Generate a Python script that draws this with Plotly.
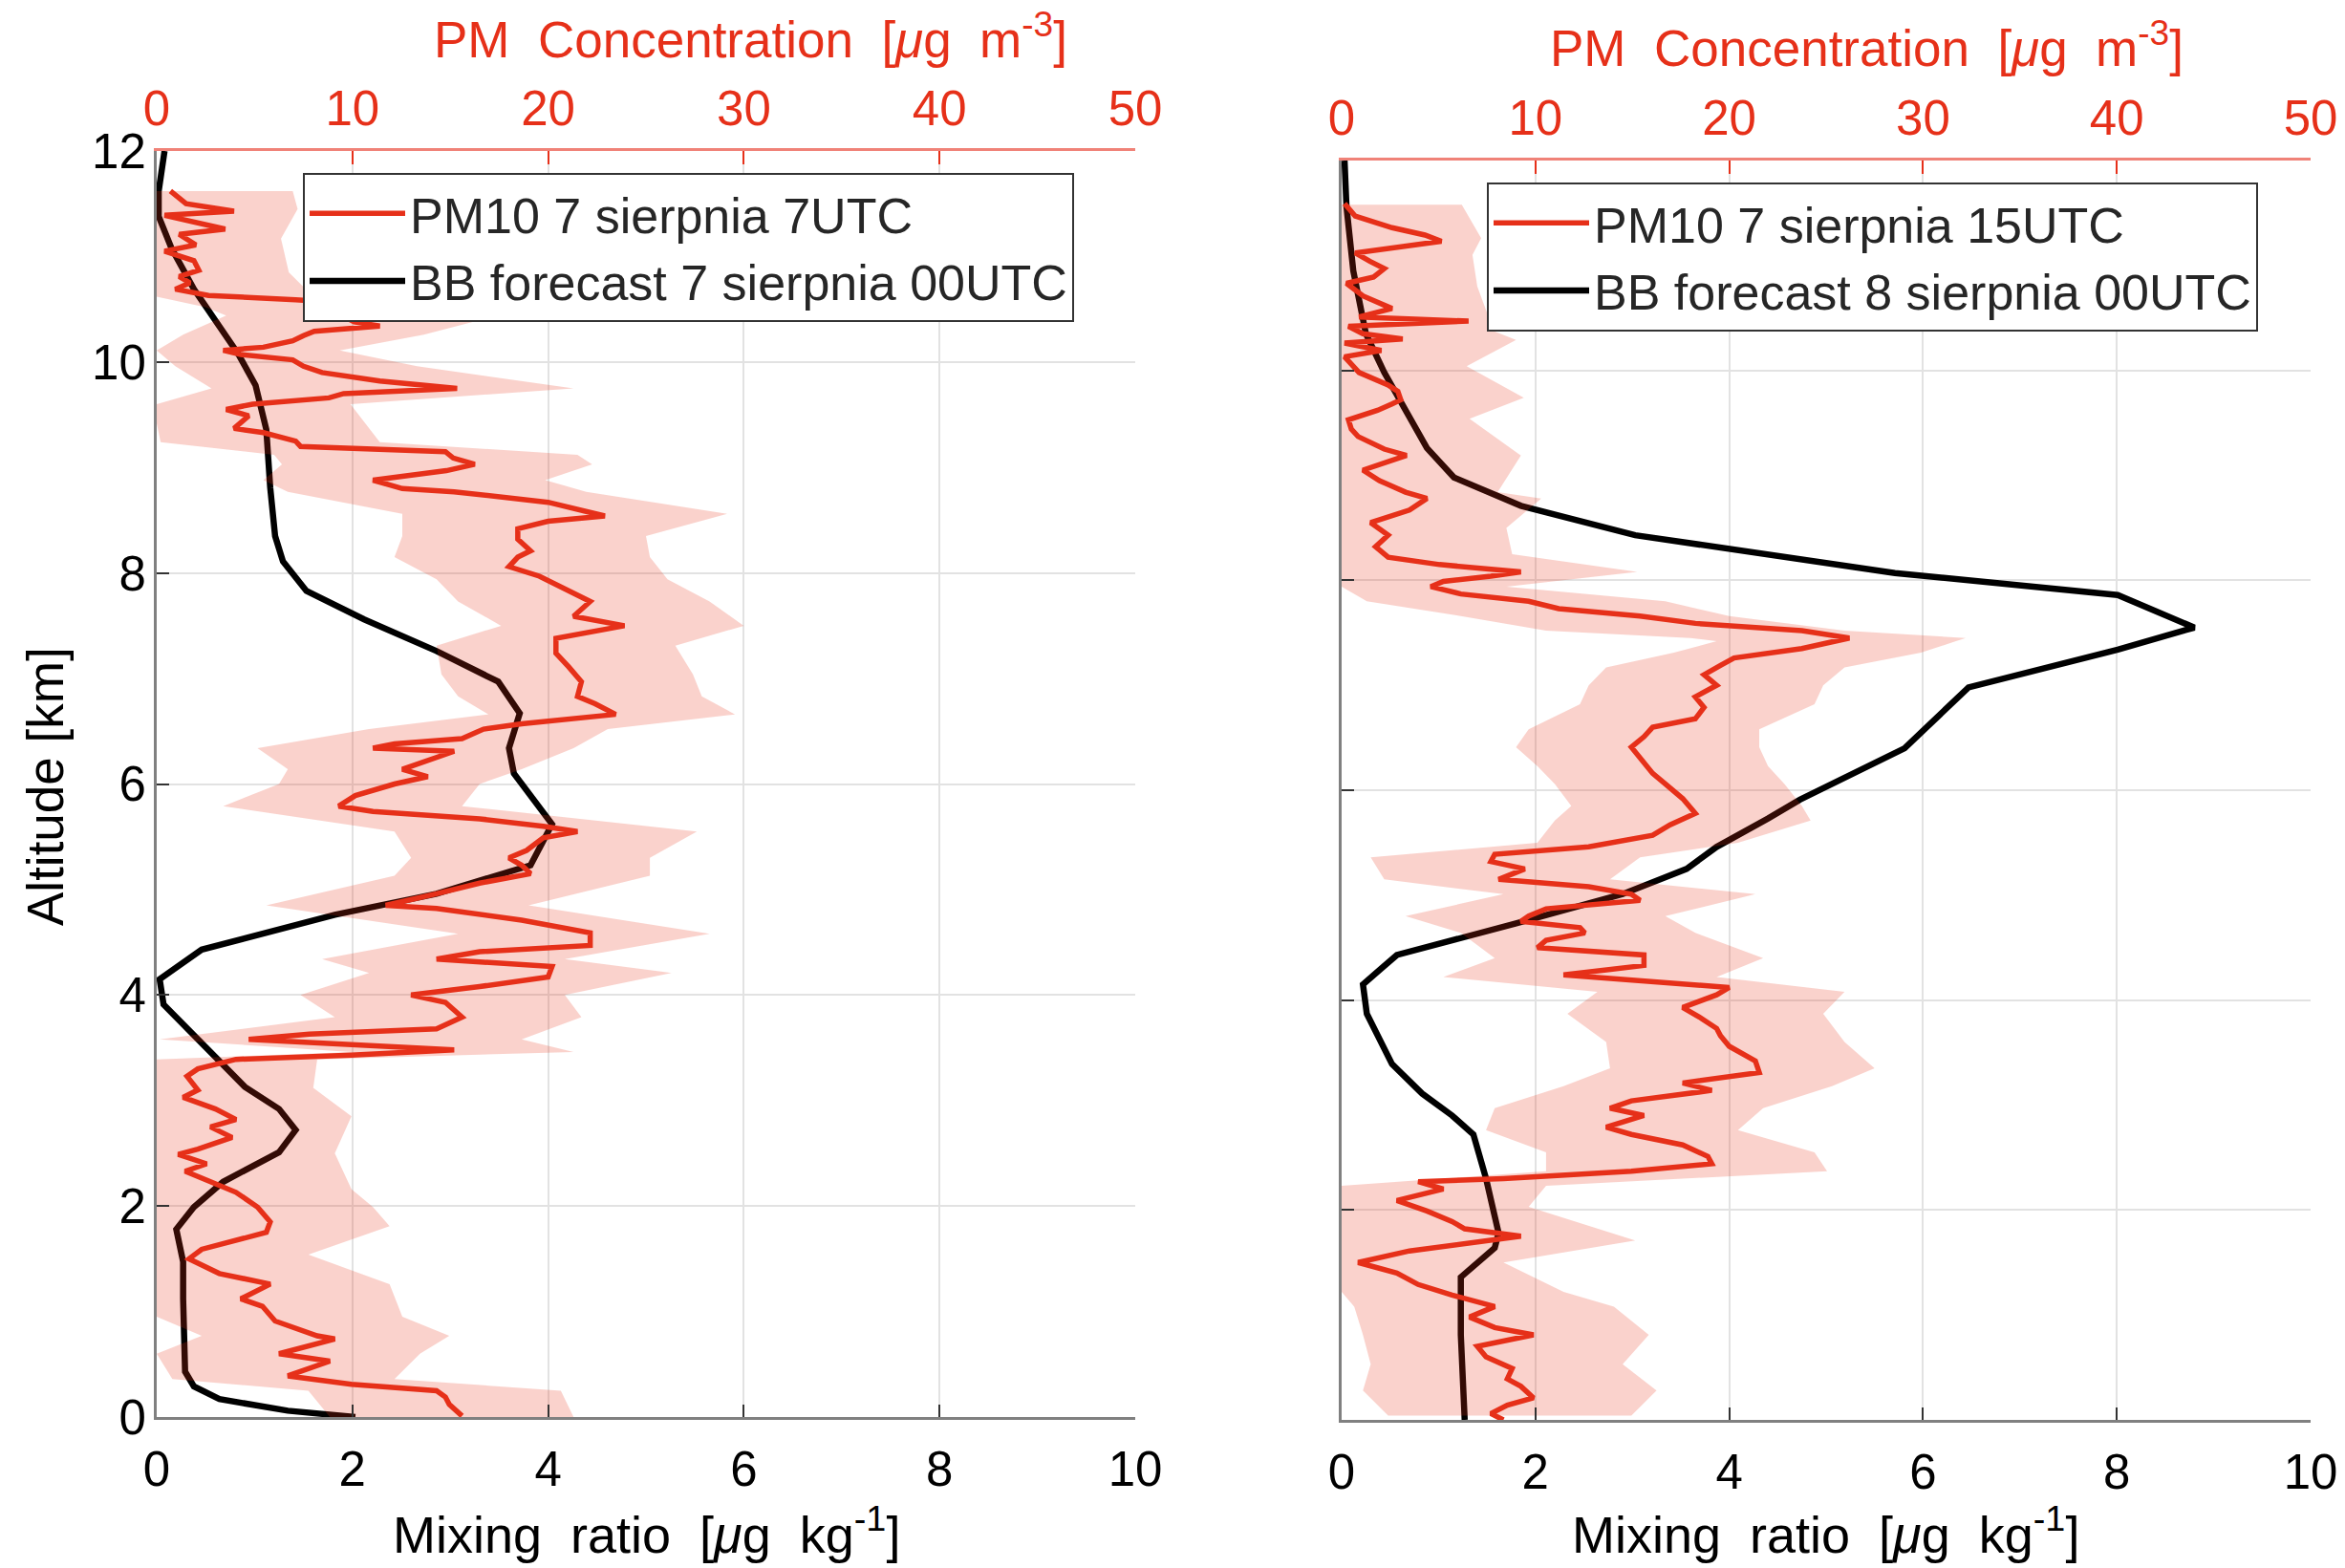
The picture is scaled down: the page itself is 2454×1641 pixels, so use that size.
import plotly.graph_objects as go

# ---------------- LEFT PANEL DATA ----------------
# PM10 7 sierpnia 7UTC  (PM concentration, ug m-3)
alt_pm_L = [11.62, 11.50, 11.43, 11.39, 11.26, 11.21, 11.11, 11.05, 10.96, 10.87, 10.81, 10.75, 10.69, 10.63,
            10.59, 10.52, 10.49, 10.43, 10.38, 10.34, 10.29, 10.25, 10.20, 10.14, 10.11, 10.07, 10.02, 9.96,
            9.90, 9.82, 9.75, 9.70, 9.66, 9.60, 9.55, 9.49, 9.43, 9.37, 9.33, 9.25, 9.20, 9.15, 9.09, 9.03,
            8.97, 8.88, 8.80, 8.77, 8.67, 8.54, 8.49, 8.42, 8.32, 8.21, 8.15, 8.06, 7.97, 7.87, 7.73, 7.59,
            7.50, 7.38, 7.24, 7.11, 6.97, 6.83, 6.76, 6.66, 6.57, 6.52, 6.43, 6.38, 6.34, 6.31, 6.20, 6.14,
            6.07, 6.00, 5.89, 5.79, 5.74, 5.67, 5.60, 5.55, 5.49, 5.37, 5.30, 5.23, 5.15, 5.06, 4.96, 4.85,
            4.82, 4.71, 4.59, 4.47, 4.41, 4.34, 4.27, 4.17, 4.08, 4.00, 3.93, 3.79, 3.68, 3.63, 3.58, 3.53,
            3.48, 3.43, 3.39, 3.30, 3.23, 3.10, 3.03, 2.92, 2.82, 2.75, 2.65, 2.54, 2.49, 2.40, 2.33, 2.23,
            2.13, 1.99, 1.85, 1.75, 1.66, 1.59, 1.50, 1.36, 1.26, 1.12, 1.05, 0.91, 0.77, 0.74, 0.60, 0.53,
            0.39, 0.31, 0.25, 0.19, 0.12, 0.01]
pm_L = [0.7, 1.5, 3.95, 0.4, 3.5, 1.15, 2.0, 0.4, 1.9, 2.15, 1.15, 1.7, 0.95, 2.65,
        7.1, 13.0, 15.9, 9.55, 10.1, 11.4, 8.05, 7.5, 6.95, 5.45, 3.4, 4.3, 6.95, 7.5,
        8.45, 11.4, 15.35, 9.55, 8.8, 4.9, 3.55, 4.7, 4.3, 3.95, 5.45, 7.1, 7.35, 14.75, 15.15, 16.25,
        14.8, 11.05, 12.55, 15.2, 20.0, 22.9, 20.0, 18.45, 18.45, 19.1, 18.45, 18.0, 19.55, 20.65, 22.15, 21.3,
        23.9, 20.4, 20.4, 21.05, 21.7, 21.5, 22.4, 23.45, 18.65, 16.7, 15.6, 12.15, 11.05, 15.2, 13.45, 12.55,
        13.85, 12.15, 10.15, 9.3, 11.05, 16.5, 19.75, 21.5, 19.75, 18.9, 18.0, 18.65, 19.1, 16.5, 14.3, 11.7,
        14.3, 18.65, 22.15, 22.15, 16.5, 14.3, 20.2, 20.0, 16.5, 13.0, 14.75, 15.6, 14.3, 7.8, 4.7, 9.95,
        15.2, 9.95, 4.05, 2.1, 1.55, 2.1, 1.35, 3.0, 4.05, 2.75, 3.85, 2.1, 1.1, 2.55, 1.45, 2.75,
        4.05, 5.15, 5.8, 5.6, 3.85, 2.3, 1.65, 3.2, 5.8, 4.3, 5.4, 6.05, 8.2, 9.1, 6.25, 8.85,
        6.7, 9.95, 14.3, 14.75, 14.95, 15.6]

# PM spread band (ug m-3)
alt_band_L = [11.62, 11.45, 11.17, 10.85, 10.62, 10.52, 10.44, 10.26, 10.11, 9.96, 9.75, 9.60, 9.42, 9.24,
              9.12, 9.03, 8.88, 8.77, 8.56, 8.35, 8.15, 7.94, 7.73, 7.50, 7.31, 7.04, 6.83, 6.66, 6.52,
              6.34, 6.14, 6.00, 5.79, 5.55, 5.30, 5.13, 4.85, 4.58, 4.34, 4.21, 4.00, 3.79, 3.58, 3.46,
              3.39, 3.12, 2.85, 2.50, 2.16, 1.99, 1.81, 1.54, 1.26, 0.95, 0.77, 0.60, 0.36, 0.25, 0.00]
pm_lo_L = [0.0, 0.0, 0.0, 0.0, 0.0, 2.5, 3.55, 1.35, 0.0, 0.95, 2.8, 0.0, 0.0, 0.2,
           6.0, 6.4, 5.45, 6.7, 12.55, 12.55, 12.15, 14.3, 15.4, 17.6, 14.3, 14.55, 15.4, 16.95, 10.85,
           5.15, 6.7, 6.25, 3.4, 12.15, 13.0, 12.15, 5.6, 15.4, 8.45, 10.85, 7.35, 9.1, 0.15, 9.95,
           0.0, 0.0, 0.0, 0.0, 0.0, 0.0, 0.0, 0.0, 0.0, 0.0, 2.3, 0.0, 0.8, 7.75, 8.85]
pm_hi_L = [6.95, 7.2, 6.35, 6.75, 8.0, 21.5, 17.4, 13.65, 9.35, 13.3, 21.3, 9.9, 10.65, 11.4,
           21.5, 22.25, 19.85, 21.95, 29.15, 25.0, 25.2, 26.1, 28.25, 30.0, 26.5, 27.4, 27.85, 29.55, 23.05,
           21.3, 18.65, 16.5, 15.6, 27.6, 25.2, 25.2, 19.0, 28.25, 20.85, 26.3, 20.85, 21.7, 18.65, 21.3,
           8.2, 8.0, 9.95, 9.1, 9.95, 11.05, 11.9, 7.75, 11.9, 12.55, 14.95, 13.45, 12.15, 20.65, 21.3]

# BB forecast 7 sierpnia 00UTC (mixing ratio, ug kg-1)
alt_bb_L = [12.0, 11.62, 11.38, 11.08, 10.69, 10.38, 10.08, 9.78, 9.36, 8.81, 8.35, 8.11, 7.83, 7.56,
            7.26, 6.97, 6.67, 6.34, 6.10, 5.62, 5.23, 4.96, 4.82, 4.76, 4.43, 4.15, 3.91, 3.39, 3.13,
            2.92, 2.72, 2.51, 2.23, 1.99, 1.78, 1.47, 1.12, 0.43, 0.29, 0.17, 0.06, 0.0]
bb_L = [0.08, 0.02, 0.02, 0.15, 0.38, 0.60, 0.83, 1.01, 1.12, 1.16, 1.21, 1.29, 1.53, 2.12,
        2.86, 3.49, 3.71, 3.60, 3.65, 4.04, 3.82, 2.86, 2.16, 1.82, 0.46, 0.03, 0.07, 0.62, 0.90,
        1.25, 1.42, 1.25, 0.68, 0.38, 0.20, 0.27, 0.27, 0.29, 0.38, 0.64, 1.34, 2.03]

# ---------------- RIGHT PANEL DATA ----------------
# PM10 7 sierpnia 15UTC (PM concentration, ug m-3)
alt_pm_R = [11.59, 11.47, 11.36, 11.29, 11.23, 11.17, 11.12, 11.04, 10.97, 10.89, 10.83, 10.71, 10.59, 10.51,
            10.47, 10.42, 10.35, 10.30, 10.26, 10.19, 10.13, 9.98, 9.86, 9.80, 9.72, 9.68, 9.62, 9.53, 9.44,
            9.37, 9.25, 9.19, 9.12, 9.05, 8.95, 8.84, 8.78, 8.67, 8.55, 8.43, 8.32, 8.22, 8.15, 8.08, 8.04,
            7.99, 7.94, 7.87, 7.80, 7.73, 7.66, 7.59, 7.52, 7.45, 7.35, 7.26, 7.19, 7.10, 7.00, 6.89, 6.79,
            6.68, 6.60, 6.51, 6.41, 6.27, 6.16, 6.06, 5.92, 5.78, 5.67, 5.57, 5.46, 5.39, 5.32, 5.25, 5.15,
            5.08, 5.01, 4.95, 4.87, 4.80, 4.75, 4.69, 4.64, 4.57, 4.50, 4.43, 4.33, 4.24, 4.19, 4.12, 4.05,
            3.93, 3.84, 3.73, 3.66, 3.56, 3.42, 3.31, 3.21, 3.14, 3.04, 2.97, 2.90, 2.79, 2.72, 2.62, 2.51,
            2.44, 2.37, 2.30, 2.27, 2.20, 2.09, 1.99, 1.89, 1.82, 1.75, 1.68, 1.61, 1.50, 1.40, 1.29, 1.19,
            1.08, 0.98, 0.88, 0.81, 0.70, 0.60, 0.49, 0.39, 0.32, 0.21, 0.14, 0.06, 0.00]
pm_R = [0.15, 0.7, 2.6, 4.3, 5.15, 2.6, 0.7, 1.45, 2.2, 1.65, 0.25, 1.1, 2.6, 0.9,
        6.55, 0.35, 1.1, 3.15, 0.15, 2.05, 0.15, 0.9, 2.4, 2.9, 3.05, 2.6, 1.85, 0.35, 0.5,
        0.85, 2.2, 3.35, 2.2, 1.1, 1.95, 3.3, 4.4, 3.5, 1.5, 2.4, 1.75, 2.4, 5.05, 9.25, 7.7,
        5.25, 4.6, 6.15, 9.65, 11.2, 15.4, 18.25, 23.75, 26.2, 23.75, 20.25, 19.55, 18.7, 19.35, 18.25, 18.7,
        18.25, 16.05, 15.6, 14.95, 15.6, 16.05, 16.7, 17.6, 18.25, 16.95, 16.05, 12.75, 7.9, 7.7, 9.45, 8.1,
        12.75, 14.95, 15.4, 10.55, 9.65, 9.25, 12.3, 12.55, 10.55, 10.1, 15.6, 15.6, 11.45, 14.95, 20.0, 19.35,
        17.6, 18.45, 19.35, 19.55, 20.0, 21.35, 21.55, 17.6, 19.1, 14.95, 13.85, 15.6, 13.65, 14.95, 17.6, 18.9,
        19.1, 14.95, 8.35, 3.95, 5.25, 2.85, 4.4, 5.7, 6.35, 9.25, 6.15, 3.5, 0.85, 2.85, 3.95, 5.7,
        7.9, 6.6, 7.9, 9.9, 7.0, 7.45, 8.8, 8.55, 9.25, 9.9, 8.55, 7.7, 8.35]

alt_band_R = [11.58, 11.26, 11.10, 10.80, 10.55, 10.47, 10.40, 10.29, 10.04, 9.74, 9.54, 9.19, 8.84, 8.78,
              8.50, 8.25, 8.08, 7.94, 7.80, 7.66, 7.52, 7.45, 7.42, 7.31, 7.17, 7.00, 6.82, 6.58, 6.41,
              6.23, 6.06, 5.85, 5.71, 5.50, 5.36, 5.15, 5.01, 4.80, 4.64, 4.40, 4.22, 4.08, 3.87, 3.60,
              3.35, 3.18, 2.97, 2.76, 2.55, 2.37, 2.23, 2.03, 1.85, 1.71, 1.50, 1.22, 1.08, 0.81, 0.53,
              0.28, 0.04]
pm_lo_R = [0.0, 0.0, 0.0, 0.0, 0.0, 0.0, 0.0, 0.0, 0.0, 0.0, 0.0, 0.0, 0.0, 0.0,
           0.0, 0.0, 0.0, 0.0, 1.3, 6.15, 10.55, 18.0, 19.35, 17.15, 13.65, 12.75, 12.3, 9.65, 9.0,
           10.1, 11.0, 11.85, 11.0, 10.1, 1.5, 2.2, 8.35, 3.3, 6.15, 7.9, 5.25, 13.2, 11.65, 13.65,
           13.85, 11.45, 7.9, 7.45, 10.55, 10.55, 0.0, 0.0, 0.0, 0.0, 0.0, 0.0, 0.65, 1.1, 1.5,
           1.1, 2.4]
pm_hi_R = [6.2, 7.2, 6.75, 7.0, 7.5, 12.0, 7.5, 9.0, 6.45, 9.4, 6.6, 9.25, 8.05, 10.3,
           8.5, 8.8, 15.25, 8.5, 16.7, 20.0, 25.95, 32.2, 31.7, 29.9, 25.95, 24.85, 24.4, 21.55, 21.55,
           22.0, 22.85, 23.75, 24.2, 20.45, 15.4, 13.85, 21.35, 16.7, 18.25, 21.75, 19.35, 25.95, 24.85, 25.95,
           27.5, 25.3, 21.75, 20.45, 24.4, 25.05, 10.55, 9.65, 12.75, 15.15, 8.35, 11.45, 14.05, 15.85, 14.5,
           16.25, 14.95]

# BB forecast 8 sierpnia 00UTC (mixing ratio, ug kg-1)
alt_bb_R = [12.0, 11.56, 10.95, 10.35, 9.98, 9.59, 9.26, 8.98, 8.71, 8.43, 8.25, 8.07, 7.86, 7.55,
            7.34, 6.98, 6.40, 5.91, 5.73, 5.46, 5.25, 5.01, 4.73, 4.43, 4.15, 3.87, 3.39, 3.11, 2.90,
            2.72, 2.30, 1.78, 1.64, 1.36, 0.81, 0.00]
bb_R = [0.03, 0.05, 0.12, 0.25, 0.44, 0.67, 0.88, 1.16, 1.85, 3.03, 4.40, 5.71, 8.01, 8.80,
        8.01, 6.47, 5.81, 4.73, 4.40, 3.87, 3.56, 2.90, 1.80, 0.57, 0.22, 0.26, 0.52, 0.83, 1.14,
        1.36, 1.49, 1.62, 1.58, 1.23, 1.23, 1.27]

# tick labels
mix_ticks = [0, 2, 4, 6, 8, 10]
pm_ticks = [0, 10, 20, 30, 40, 50]
alt_ticks = [0, 2, 4, 6, 8, 10, 12]

legend_L = ["PM10 7 sierpnia 7UTC", "BB forecast 7 sierpnia 00UTC"]
legend_R = ["PM10 7 sierpnia 15UTC", "BB forecast 8 sierpnia 00UTC"]

# ---------------- STYLE ----------------
FONT = "Liberation Sans, Arial, Helvetica, sans-serif"
RED = "rgb(230,48,25)"
BAND = "rgba(230,48,25,0.22)"
GRID = "#E2E2E2"
AXGREY = "#808080"
W, H = 2454, 1641

fig = go.Figure()


def add_panel(xa, xa_top, ya, alt_pm, pm, alt_b, lo, hi, alt_bb, bb, names, leg):
    # black forecast line (bottom axis, mixing ratio)
    fig.add_trace(go.Scatter(x=bb, y=alt_bb, mode="lines", name=names[1],
                             line=dict(color="black", width=6.5), xaxis=xa, yaxis=ya,
                             legend=leg, legendrank=2))
    # spread band (top axis, PM concentration)
    fig.add_trace(go.Scatter(x=lo + hi[::-1], y=alt_b + alt_b[::-1], mode="lines", fill="toself",
                             fillcolor=BAND, line=dict(width=0, color="rgba(0,0,0,0)"),
                             xaxis=xa_top, yaxis=ya, showlegend=False, hoverinfo="skip"))
    # red PM line (top axis)
    fig.add_trace(go.Scatter(x=pm, y=alt_pm, mode="lines", name=names[0],
                             line=dict(color=RED, width=5.5), xaxis=xa_top, yaxis=ya,
                             legend=leg, legendrank=1))


add_panel("x", "x2", "y", alt_pm_L, pm_L, alt_band_L, pm_lo_L, pm_hi_L, alt_bb_L, bb_L, legend_L, "legend")
add_panel("x3", "x4", "y2", alt_pm_R, pm_R, alt_band_R, pm_lo_R, pm_hi_R, alt_bb_R, bb_R, legend_R, "legend2")

dom_xL = [164 / W, 1188 / W]
dom_yL = [1 - 1483 / H, 1 - 158 / H]
dom_xR = [1404 / W, 2418 / W]
dom_yR = [1 - 1486 / H, 1 - 168 / H]

tickfont = dict(family=FONT, size=51, color="black")
redfont = dict(family=FONT, size=51, color=RED)

bottom_axis = dict(range=[0, 10], tickvals=mix_ticks, showline=True, linecolor=AXGREY, linewidth=3,
                   ticks="inside", ticklen=13, tickwidth=2, tickcolor="#333333", showgrid=True,
                   gridcolor=GRID, gridwidth=2, zeroline=False, tickfont=tickfont, automargin=False,
                   ticklabelstandoff=8)
top_axis = dict(range=[0, 50], tickvals=pm_ticks, side="top", showline=True, linecolor="rgb(240,130,120)",
                linewidth=3, ticks="inside", ticklen=14, tickwidth=2, tickcolor=RED, showgrid=False,
                zeroline=False, tickfont=redfont, automargin=False, ticklabelstandoff=4)
left_axis = dict(range=[0, 12], tickvals=alt_ticks, showline=True, linecolor=AXGREY, linewidth=3,
                 ticks="inside", ticklen=13, tickwidth=2, tickcolor="#333333", showgrid=True,
                 gridcolor=GRID, gridwidth=2, zeroline=False, tickfont=tickfont, automargin=False)

legfont = dict(family=FONT, size=52, color="#262626")
fig.update_layout(
    width=W, height=H, margin=dict(l=0, r=0, t=0, b=0),
    paper_bgcolor="white", plot_bgcolor="white",
    font=dict(family=FONT, color="black"),
    xaxis=dict(bottom_axis, domain=dom_xL, anchor="y"),
    xaxis2=dict(top_axis, overlaying="x", anchor="y"),
    yaxis=dict(left_axis, domain=dom_yL, anchor="x", ticklabelstandoff=-2),
    xaxis3=dict(bottom_axis, domain=dom_xR, anchor="y2"),
    xaxis4=dict(top_axis, overlaying="x3", anchor="y2"),
    yaxis2=dict(left_axis, domain=dom_yR, anchor="x3", showticklabels=False),
    legend=dict(x=317 / W, y=1 - 181 / H, xanchor="left", yanchor="top", bgcolor="white",
                bordercolor="#333333", borderwidth=2, font=legfont, itemwidth=100, tracegroupgap=0),
    legend2=dict(x=1556 / W, y=1 - 191 / H, xanchor="left", yanchor="top", bgcolor="white",
                 bordercolor="#333333", borderwidth=2, font=legfont, itemwidth=100, tracegroupgap=0),
    showlegend=True,
)

sp = "\u00a0\u00a0"
top_title = f"PM{sp}Concentration{sp}[<i>μ</i>g{sp}m<sup>-3</sup>]"
bot_title = f"Mixing{sp}ratio{sp}[<i>μ</i>g{sp}kg<sup>-1</sup>]"
ann_font = dict(family=FONT, size=54, color="black")
red_title_font = dict(family=FONT, size=53, color=RED)
fig.add_annotation(text=top_title, x=785 / W, y=1 - 37 / H, xref="paper", yref="paper", showarrow=False,
                   xanchor="center", yanchor="middle", font=red_title_font)
fig.add_annotation(text=top_title, x=1953 / W, y=1 - 47 / H, xref="paper", yref="paper", showarrow=False,
                   xanchor="center", yanchor="middle", font=red_title_font)
fig.add_annotation(text=bot_title, x=676 / W, y=1 - 1602 / H, xref="paper", yref="paper", showarrow=False,
                   xanchor="center", yanchor="middle", font=ann_font)
fig.add_annotation(text=bot_title, x=1911 / W, y=1 - 1602 / H, xref="paper", yref="paper", showarrow=False,
                   xanchor="center", yanchor="middle", font=ann_font)
fig.add_annotation(text="Altitude [km]", x=47 / W, y=1 - 823 / H, xref="paper", yref="paper",
                   showarrow=False, textangle=-90, xanchor="center", yanchor="middle",
                   font=dict(family=FONT, size=53, color="black"))

fig.write_html("out.html")
